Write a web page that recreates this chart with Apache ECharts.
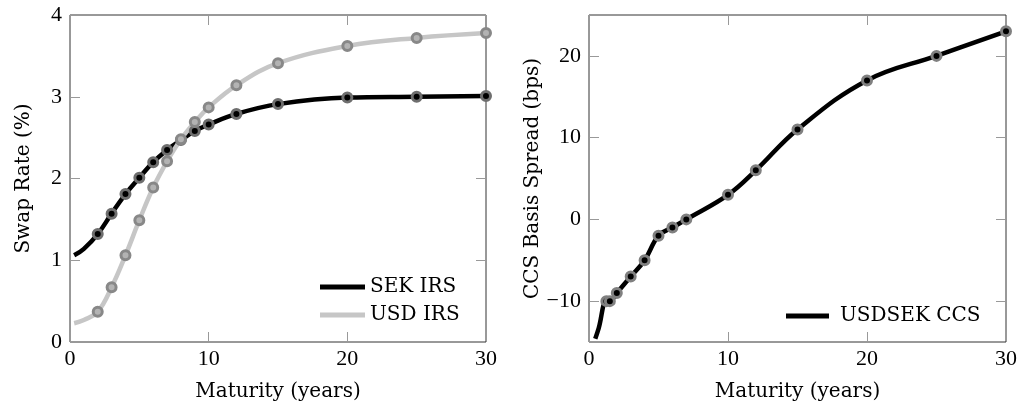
<!DOCTYPE html>
<html>
<head>
<meta charset="utf-8">
<script src="https://cdn.jsdelivr.net/npm/echarts@6/dist/echarts.min.js"></script>
<style>
html,body{margin:0;padding:0;background:#fff;}
#c{width:1020px;height:410px;}
</style>
</head>
<body>
<div id="c"></div>
<script>
// ---- data ----
const sekMaturities = [0.3, 1, 2, 3, 4, 5, 6, 7, 8, 9, 10, 12, 15, 20, 25, 30];
const sekRates      = [1.06, 1.14, 1.32, 1.57, 1.81, 2.01, 2.20, 2.35, 2.47, 2.58, 2.66, 2.79, 2.91, 2.99, 3.00, 3.01];
const usdMaturities = [0.3, 1, 2, 3, 4, 5, 6, 7, 8, 9, 10, 12, 15, 20, 25, 30];
const usdRates      = [0.23, 0.27, 0.37, 0.67, 1.06, 1.49, 1.89, 2.21, 2.48, 2.69, 2.87, 3.14, 3.41, 3.62, 3.72, 3.78];
const ccsMaturities = [0.45, 0.7, 1.25, 1.5, 2, 3, 4, 5, 6, 7, 10, 12, 15, 20, 25, 30];
const ccsSpreads    = [-14.6, -13.3, -10, -10, -9, -7, -5, -2, -1, 0, 3, 6, 11, 17, 20, 23];
// points drawn as part of the curve only (no marker)
const sekNoMarker = [0.3, 1];
const usdNoMarker = [0.3, 1];
const ccsNoMarker = [0.45, 0.7];
const xTicks = [0, 10, 20, 30];
const leftYTicks = [0, 1, 2, 3, 4];
const rightYTicks = [-10, 0, 10, 20];
const seriesNames = ['SEK IRS', 'USD IRS', 'USDSEK CCS'];
const xName = 'Maturity (years)';
const leftYName = 'Swap Rate (%)';
const rightYName = 'CCS Basis Spread (bps)';

const TICKFONT = 'Liberation Serif';
const TFS = 22;
const NAMEFONT = 'DejaVu Serif';
const NFS = 20;

function pts(xs, ys, noMarker) {
  return xs.map((x, i) => noMarker.indexOf(x) >= 0
    ? { value: [x, ys[i]], symbol: 'none' }
    : { value: [x, ys[i]] });
}

const tickStyle = { show: true, inside: true, length: 10, lineStyle: { color: '#999', width: 1 } };
function xAx(gi, pos, showLabel) {
  return {
    type: 'value', gridIndex: gi, position: pos, min: 0, max: 30,
    axisLine: { show: false, onZero: false },
    axisTick: Object.assign({ customValues: xTicks }, tickStyle),
    splitLine: { show: false },
    axisLabel: { show: showLabel, customValues: xTicks, color: '#000', fontFamily: TICKFONT, fontSize: TFS, margin: 6 },
    name: showLabel ? xName : '', nameLocation: 'middle', nameGap: 40,
    nameTextStyle: { color: '#000', fontFamily: NAMEFONT, fontSize: NFS }
  };
}
function yAx(gi, pos, showLabel, min, max, ticks, name, gap) {
  return {
    type: 'value', gridIndex: gi, position: pos, min: min, max: max,
    axisLine: { show: false, onZero: false },
    axisTick: Object.assign({ customValues: ticks }, tickStyle),
    splitLine: { show: false },
    axisLabel: {
      show: showLabel, customValues: ticks, color: '#000', fontFamily: TICKFONT, fontSize: TFS, margin: 8,
      formatter: v => String(v).replace('-', '\u2212')
    },
    name: showLabel ? name : '', nameLocation: 'middle', nameGap: gap,
    nameTextStyle: { color: '#000', fontFamily: NAMEFONT, fontSize: NFS }
  };
}

const chart = echarts.init(document.getElementById('c'), null, { renderer: 'canvas' });
chart.setOption({
  animation: false,
  backgroundColor: '#fff',
  grid: [
    { left: 70, top: 15, width: 416, height: 327, show: true, borderColor: '#333', borderWidth: 1, backgroundColor: 'transparent' },
    { left: 589, top: 15, width: 417, height: 327, show: true, borderColor: '#333', borderWidth: 1, backgroundColor: 'transparent' }
  ],
  xAxis: [ xAx(0, 'bottom', true), xAx(0, 'top', false), xAx(1, 'bottom', true), xAx(1, 'top', false) ],
  yAxis: [
    yAx(0, 'left', true, 0, 4, leftYTicks, leftYName, 36),
    yAx(0, 'right', false, 0, 4, leftYTicks, '', 0),
    yAx(1, 'left', true, -15, 25, rightYTicks, rightYName, 40),
    yAx(1, 'right', false, -15, 25, rightYTicks, '', 0)
  ],
  legend: [
    {
      left: 315, top: 271, orient: 'vertical', itemWidth: 45, itemHeight: 5, itemGap: 6,
      textStyle: { color: '#000', fontFamily: NAMEFONT, fontSize: NFS, lineHeight: 22, padding: [0, 0, 0, 0] },
      data: [
        { name: seriesNames[0], icon: 'rect', itemStyle: { color: '#000', borderWidth: 0 } },
        { name: seriesNames[1], icon: 'rect', itemStyle: { color: '#c6c6c6', borderWidth: 0 } }
      ]
    },
    {
      left: 781, top: 300, orient: 'vertical', itemWidth: 43, itemHeight: 5,
      textStyle: { color: '#000', fontFamily: NAMEFONT, fontSize: NFS, lineHeight: 22, padding: [0, 0, 0, 6] },
      data: [ { name: seriesNames[2], icon: 'rect', itemStyle: { color: '#000', borderWidth: 0 } } ]
    }
  ],
  series: [
    {
      name: seriesNames[0], type: 'line', xAxisIndex: 0, yAxisIndex: 0, smooth: 0.4, clip: false,
      data: pts(sekMaturities, sekRates, sekNoMarker),
      lineStyle: { color: '#000', width: 4.5 },
      symbol: 'circle', symbolSize: 9, showAllSymbol: true,
      itemStyle: { color: '#000', borderColor: '#6e6e6e', borderWidth: 3 }
    },
    {
      name: seriesNames[1], type: 'line', xAxisIndex: 0, yAxisIndex: 0, smooth: 0.4, clip: false,
      data: pts(usdMaturities, usdRates, usdNoMarker),
      lineStyle: { color: '#c6c6c6', width: 4.5 },
      symbol: 'circle', symbolSize: 9, showAllSymbol: true,
      itemStyle: { color: '#b3b3b3', borderColor: '#888', borderWidth: 3 }
    },
    {
      name: seriesNames[2], type: 'line', xAxisIndex: 2, yAxisIndex: 2, smooth: 0.4, clip: false,
      data: pts(ccsMaturities, ccsSpreads, ccsNoMarker),
      lineStyle: { color: '#000', width: 4.5 },
      symbol: 'circle', symbolSize: 9, showAllSymbol: true,
      itemStyle: { color: '#000', borderColor: '#808080', borderWidth: 3 }
    }
  ]
});
</script>
</body>
</html>
